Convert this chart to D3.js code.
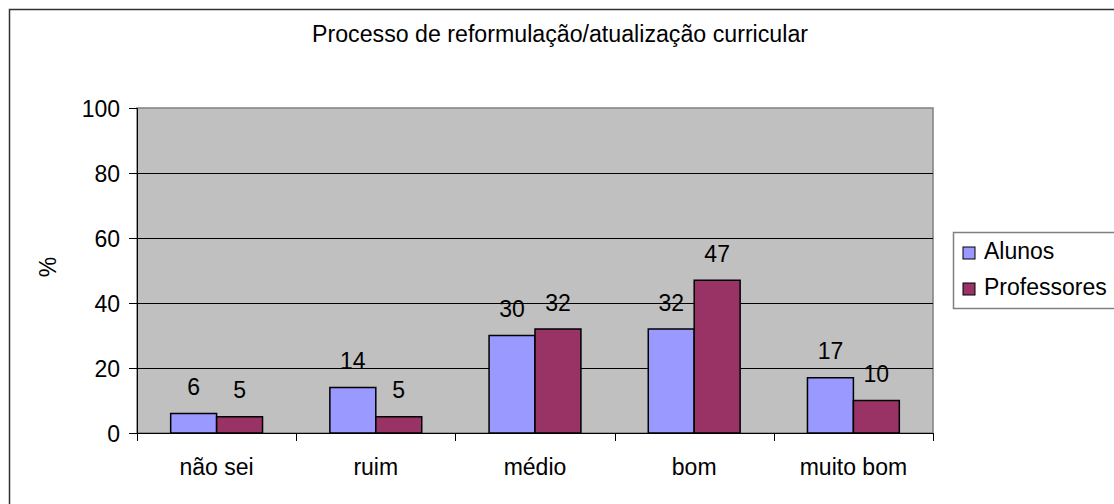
<!DOCTYPE html>
<html><head><meta charset="utf-8">
<script src="https://cdn.jsdelivr.net/npm/d3@7"></script>
<style>body{margin:0;background:#fff}svg{display:block;font-family:"Liberation Sans",Arial,sans-serif}</style>
</head><body><svg id="c" width="1114" height="504"></svg>
<script>
const categories = ["não sei","ruim","médio","bom","muito bom"];
const seriesNames = ["Alunos","Professores"];
const alunos = [6,14,30,32,17];
const professores = [5,5,32,47,10];
const yTicks = [0,20,40,60,80,100];
const titleText = "Processo de reformulação/atualização curricular";
const yLabel = "%";
const colors = ["#9999FF","#993366"];
const FS = 23;

const svg = d3.select("#c");
const L=137, R=933, T=108, B=433;
// outer frame
svg.append("rect").attr("x",9.5).attr("y",9.5).attr("width",1120).attr("height",510)
  .attr("fill","#fff").attr("stroke","#333").attr("stroke-width",1.5);
// title
svg.append("text").attr("x",560).attr("y",42).attr("text-anchor","middle")
  .attr("font-size",FS).attr("textLength",496).attr("lengthAdjust","spacingAndGlyphs").text(titleText);

const x = d3.scaleBand().domain(categories).range([L,R]).padding(0);
const xs = d3.scaleBand().domain(seriesNames).range([0,x.bandwidth()]).paddingInner(0).paddingOuter(0.733);
const y = d3.scaleLinear().domain([0,100]).range([B,T]);

// plot area
svg.append("rect").attr("x",L).attr("y",T).attr("width",R-L).attr("height",B-T)
  .attr("fill","#C0C0C0").attr("stroke","#808080").attr("stroke-width",1.5);
// gridlines
svg.append("g").selectAll("line").data(yTicks.filter(d=>d>0&&d<100)).join("line")
  .attr("x1",L).attr("x2",R).attr("y1",d=>Math.round(y(d))+0.5).attr("y2",d=>Math.round(y(d))+0.5)
  .attr("stroke","#000").attr("stroke-width",1);

// y axis
const ya = svg.append("g").attr("transform",`translate(${L},0)`)
  .call(d3.axisLeft(y).tickValues(yTicks).tickSize(8).tickPadding(9));
ya.select(".domain").attr("stroke","#000");
ya.selectAll("line").attr("stroke","#000");
ya.selectAll("text").attr("font-size",FS).attr("fill","#000").attr("font-family","Liberation Sans, Arial, sans-serif").attr("dy","0.36em");

// x axis: ticks at category boundaries
const xa = svg.append("g");
xa.append("line").attr("x1",L).attr("x2",R).attr("y1",B+0.5).attr("y2",B+0.5).attr("stroke","#000");
const bounds = categories.map(c=>x(c)).concat([x(categories[categories.length-1])+x.bandwidth()]);
xa.selectAll("line.t").data(bounds).join("line").attr("class","t")
  .attr("x1",d=>Math.round(d)+0.5).attr("x2",d=>Math.round(d)+0.5).attr("y1",B).attr("y2",B+8).attr("stroke","#000");
xa.selectAll("text").data(categories).join("text")
  .attr("x",d=>x(d)+x.bandwidth()/2).attr("y",475).attr("text-anchor","middle")
  .attr("font-size",FS).text(d=>d);

// bars
const data = categories.map((c,i)=>({c, vals:[{s:"Alunos",v:alunos[i]},{s:"Professores",v:professores[i]}]}));
const g = svg.append("g").selectAll("g").data(data).join("g").attr("transform",d=>`translate(${x(d.c)},0)`);
g.selectAll("rect").data(d=>d.vals).join("rect")
  .attr("x",d=>xs(d.s)).attr("width",xs.bandwidth())
  .attr("y",d=>y(d.v)).attr("height",d=>B-y(d.v))
  .attr("fill",(d,i)=>colors[i]).attr("stroke","#000").attr("stroke-width",1.5);
g.selectAll("text").data(d=>d.vals).join("text")
  .attr("x",d=>xs(d.s)+xs.bandwidth()/2).attr("y",d=>y(d.v)-18.5).attr("text-anchor","middle")
  .attr("font-size",FS).text(d=>d.v);

// y label
svg.append("text").attr("transform","translate(56,267) rotate(-90)").attr("text-anchor","middle")
  .attr("font-size",FS).text(yLabel);

// legend
const lg = svg.append("g");
lg.append("rect").attr("x",953.5).attr("y",232.5).attr("width",200).attr("height",76)
  .attr("fill","#fff").attr("stroke","#808080").attr("stroke-width",1.5);
seriesNames.forEach((s,i)=>{
  const yy = 247 + i*36;
  lg.append("rect").attr("x",963).attr("y",yy).attr("width",12).attr("height",12)
    .attr("fill",colors[i]).attr("stroke","#000").attr("stroke-width",1);
  lg.append("text").attr("x",984).attr("y",yy+12).attr("font-size",FS).text(s);
});
</script></body></html>
